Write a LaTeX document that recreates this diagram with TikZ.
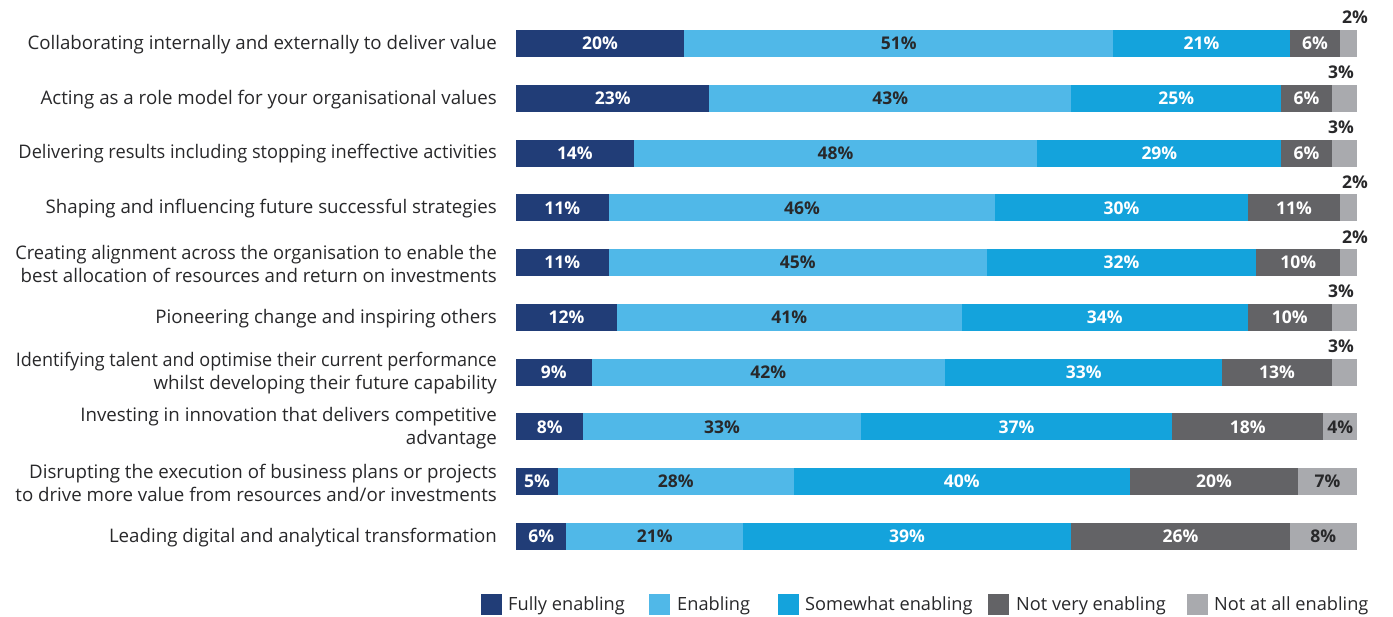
\documentclass[tikz,border=0pt]{standalone}
\usepackage{graphicx}
\usepackage{fontspec}
\setmainfont{Open Sans}
\definecolor{cFull}{RGB}{33,61,119}
\definecolor{cEn}{RGB}{80,184,232}
\definecolor{cSome}{RGB}{20,163,220}
\definecolor{cNotv}{RGB}{99,99,102}
\definecolor{cNot}{RGB}{169,170,174}
\definecolor{cText}{RGB}{40,40,42}
\newcommand\sqz[2]{\scalebox{#1}[1]{#2}}
\begin{document}
\begin{tikzpicture}[x=1pt,y=-1pt,
  seg/.style={draw=none,inner sep=0pt,outer sep=0pt,minimum height=27pt,anchor=west,
    font=\fontsize{17.5}{19}\selectfont\bfseries},
  rowlab/.style={anchor=east,align=right,inner sep=0pt,text=cText,
    font=\fontsize{18.7}{23}\selectfont},
  toplab/.style={anchor=base east,inner sep=0pt,text=cText,font=\fontsize{17.5}{19}\selectfont\bfseries},
  legbox/.style={draw=none,inner sep=0pt,minimum width=21pt,minimum height=21pt,anchor=west},
  legtext/.style={anchor=west,inner sep=0pt,text=cText,font=\fontsize{18.2}{20}\selectfont}]
\useasboundingbox (0,0) rectangle (1393,617);
\foreach \lab/\pA/\pB/\pC/\pD/\pE [count=\i from 0] in {
  {Collaborating internally and externally to deliver value}/20/51/21/6/2,
  {Acting as a role model for your organisational values}/23/43/25/6/3,
  {\sqz{0.974}{Delivering results including stopping ineffective activities}}/14/48/29/6/3,
  {Shaping and influencing future successful strategies}/11/46/30/11/2,
  {\sqz{0.976}{Creating alignment across the organisation to enable the}\\best allocation of resources and return on investments}/11/45/32/10/2,
  {Pioneering change and inspiring others}/12/41/34/10/3,
  {\sqz{0.964}{Identifying talent and optimise their current performance}\\whilst developing their future capability}/9/42/33/13/3,
  {Investing in innovation that delivers competitive\\advantage}/8/33/37/18/4,
  {Disrupting the execution of business plans or projects\\to drive more value from resources and/or investments}/5/28/40/20/7,
  {Leading digital and analytical transformation}/6/21/39/26/8}
{
  \pgfmathsetmacro\yc{43.5+\i*54.78}
  \pgfmathsetmacro\ytop{30+\i*54.78}
  \pgfmathsetmacro\wA{8.41*\pA}
  \pgfmathsetmacro\wB{8.41*\pB}
  \pgfmathsetmacro\wC{8.41*\pC}
  \pgfmathsetmacro\wD{8.41*\pD}
  \pgfmathsetmacro\wE{8.41*\pE}
  \node[rowlab] (l\i) at (497,\yc+1) {\lab};
  \node[seg,fill=cFull,text=white,minimum width=\wA pt] (a\i) at (516,\yc) {\pA\%};
  \node[seg,fill=cEn,text=cText,minimum width=\wB pt] (b\i) at (a\i.east) {\pB\%};
  \node[seg,fill=cSome,text=white,minimum width=\wC pt] (c\i) at (b\i.east) {\pC\%};
  \node[seg,fill=cNotv,text=white,minimum width=\wD pt] (d\i) at (c\i.east) {\pD\%};
  \ifnum\pE<4
    \node[seg,fill=cNot,minimum width=\wE pt] (e\i) at (d\i.east) {};
    \ifnum\pE=2
      \node[toplab] (t\i) at (1368,\ytop-6) {\pE\%};
    \else
      \node[toplab] (t\i) at (1354,\ytop-6) {\pE\%};
    \fi
  \else
    \node[seg,fill=cNot,text=cText,minimum width=\wE pt] (e\i) at (d\i.east) {\pE\%};
  \fi
}
\node[legbox,fill=cFull] (k1) at (481,604.5) {};
\node[legtext] (k1t) at (508,606) {Fully enabling};
\node[legbox,fill=cEn] (k2) at (649,604.5) {};
\node[legtext] (k2t) at (677,606) {Enabling};
\node[legbox,fill=cSome] (k3) at (778,604.5) {};
\node[legtext] (k3t) at (805,606) {Somewhat enabling};
\node[legbox,fill=cNotv] (k4) at (988,604.5) {};
\node[legtext] (k4t) at (1016,606) {Not very enabling};
\node[legbox,fill=cNot] (k5) at (1187,604.5) {};
\node[legtext] (k5t) at (1214,606) {Not at all enabling};
\end{tikzpicture}
\end{document}
